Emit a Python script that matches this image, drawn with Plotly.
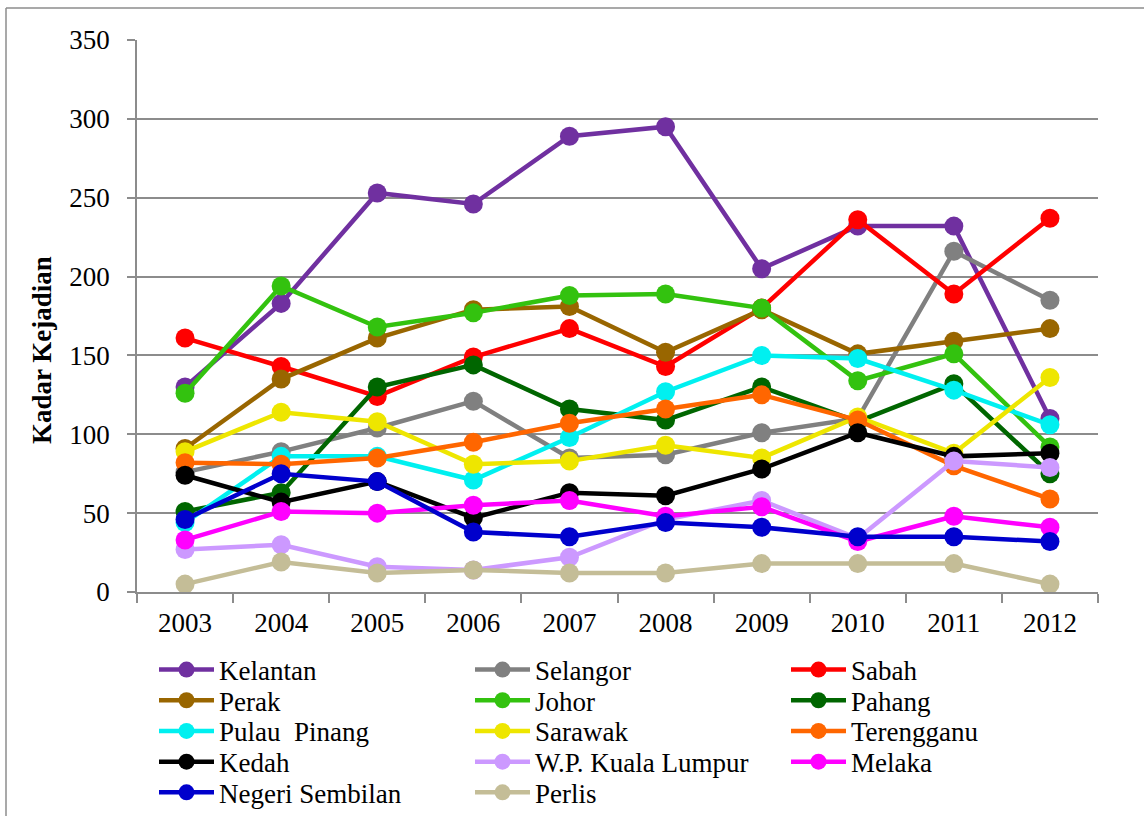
import plotly.graph_objects as go

years = ["2003", "2004", "2005", "2006", "2007", "2008", "2009", "2010", "2011", "2012"]

states = ["Kelantan", "Selangor", "Sabah",
          "Perak", "Johor", "Pahang",
          "Pulau  Pinang", "Sarawak", "Terengganu",
          "Kedah", "W.P. Kuala Lumpur", "Melaka",
          "Negeri Sembilan", "Perlis"]

kelantan = [130, 183, 253, 246, 289, 295, 205, 232, 232, 110]
selangor = [76, 89, 104, 121, 85, 87, 101, 110, 216, 185]
sabah = [161, 143, 124, 149, 167, 143, 180, 236, 189, 237]
perak = [91, 135, 161, 179, 181, 152, 179, 151, 159, 167]
johor = [126, 194, 168, 177, 188, 189, 180, 134, 151, 92]
pahang = [51, 63, 130, 144, 116, 109, 130, 108, 132, 75]
pulau_pinang = [44, 86, 86, 71, 98, 127, 150, 148, 128, 106]
sarawak = [89, 114, 108, 81, 83, 93, 85, 111, 88, 136]
terengganu = [82, 81, 85, 95, 107, 116, 125, 109, 80, 59]
kedah = [74, 57, 70, 47, 63, 61, 78, 101, 86, 88]
kuala_lumpur = [27, 30, 16, 14, 22, 46, 58, 34, 83, 79]
melaka = [33, 51, 50, 55, 58, 48, 54, 32, 48, 41]
negeri_sembilan = [46, 75, 70, 38, 35, 44, 41, 35, 35, 32]
perlis = [5, 19, 12, 14, 12, 12, 18, 18, 18, 5]

series = [kelantan, selangor, sabah, perak, johor, pahang, pulau_pinang,
          sarawak, terengganu, kedah, kuala_lumpur, melaka, negeri_sembilan, perlis]

colors = ["#7030A0", "#808080", "#FF0000",
          "#996600", "#33C20F", "#006600",
          "#00F0F0", "#EEE600", "#FF6600",
          "#000000", "#CC99FF", "#FF00FF",
          "#0000CC", "#C4BD97"]

y_ticks = [0, 50, 100, 150, 200, 250, 300, 350]

FONT = "Liberation Serif, Times New Roman, Tinos, DejaVu Serif, serif"
W, H = 1144, 816
ML, MR, MT, MB = 137, 46, 40, 224
PW = W - ML - MR
PH = H - MT - MB


def px_x(x):
    return (x - ML) / PW


def px_y(y):
    return (H - MB - y) / PH


fig = go.Figure()
layout_legends = {}
for i, (name, vals, col) in enumerate(zip(states, series, colors)):
    lname = "legend" if i == 0 else f"legend{i + 1}"
    fig.add_trace(go.Scatter(
        x=years, y=vals, name=name, mode="lines+markers",
        line=dict(color=col, width=4.5),
        marker=dict(color=col, size=19),
        legend=lname,
    ))
    row, colidx = divmod(i, 3)
    layout_legends[lname] = dict(
        x=px_x(154 + 316 * colidx), y=px_y(670 + 30.7 * row),
        xanchor="left", yanchor="middle",
        orientation="v", bgcolor="rgba(0,0,0,0)",
        font=dict(family=FONT, size=27, color="#000000"),
        itemwidth=55,
    )

fig.update_layout(
    width=W, height=H,
    margin=dict(l=ML, r=MR, t=MT, b=MB, pad=0, autoexpand=False),
    paper_bgcolor="white", plot_bgcolor="white",
    font=dict(family=FONT, size=27, color="#000000"),
    showlegend=True,
    **layout_legends,
)

fig.update_xaxes(
    type="category", categoryorder="array", categoryarray=years,
    showline=True, linecolor="#8C8C8C", linewidth=1.5,
    ticks="outside", ticklen=9, tickwidth=1.5, tickcolor="#8C8C8C",
    tickson="boundaries", showgrid=False, zeroline=False,
    tickfont=dict(family=FONT, size=27, color="#000000"),
    ticklabelstandoff=6, automargin=False,
    range=[-0.5, 9.5],
)
fig.update_yaxes(
    range=[0, 350], tickvals=y_ticks,
    showline=True, linecolor="#8C8C8C", linewidth=1.5,
    ticks="outside", ticklen=8, tickwidth=1.5, tickcolor="#8C8C8C",
    showgrid=True, gridcolor="#8C8C8C", gridwidth=1.5, zeroline=False,
    tickfont=dict(family=FONT, size=27, color="#000000"),
    ticklabelstandoff=12, automargin=False,
)

fig.add_annotation(
    text="Kadar Kejadian", textangle=-90,
    xref="paper", yref="paper", x=px_x(42), y=px_y(350),
    xanchor="center", yanchor="middle", showarrow=False,
    font=dict(family=FONT, size=27, color="#000000", weight="bold"),
)

fig.add_shape(type="line", xref="paper", yref="paper",
              x0=px_x(6), x1=px_x(6), y0=px_y(8), y1=px_y(H + 5),
              line=dict(color="#8C8C8C", width=1.5))
fig.add_shape(type="line", xref="paper", yref="paper",
              x0=px_x(6), x1=px_x(W + 5), y0=px_y(8), y1=px_y(8),
              line=dict(color="#8C8C8C", width=1.5))

fig.write_html("out.html")
